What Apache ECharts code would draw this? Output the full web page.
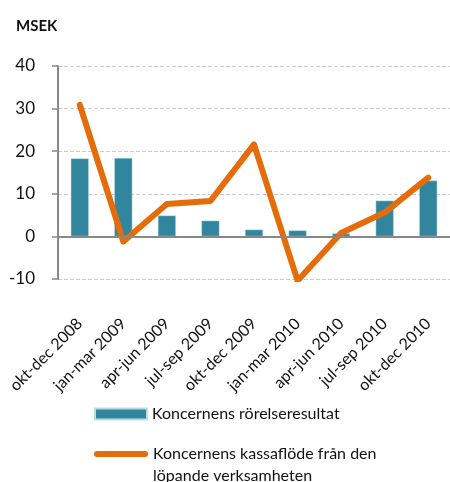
<!DOCTYPE html>
<html><head><meta charset="utf-8">
<script src="https://cdn.jsdelivr.net/npm/echarts@6/dist/echarts.min.js"></script>
<style>html,body{margin:0;padding:0;background:#fff}#c{width:450px;height:482px}</style>
</head><body><div id="c"></div>
<script>
const categories = ['okt-dec 2008','jan-mar 2009','apr-jun 2009','jul-sep 2009','okt-dec 2009','jan-mar 2010','apr-jun 2010','jul-sep 2010','okt-dec 2010'];
const rorelseresultat = [18.3, 18.4, 4.9, 3.7, 1.6, 1.4, 0.7, 8.4, 13.1];
const kassaflode = [30.9, -1.2, 7.6, 8.3, 21.6, -10.4, 0.8, 5.6, 13.8];
const yTicks = {min: -10, max: 40, interval: 10};
const barName = 'Koncernens rörelseresultat';
const lineName = 'Koncernens kassaflöde från den löpande verksamheten';
const font = 'Lato, "Liberation Sans", sans-serif';
const chart = echarts.init(document.getElementById('c'), null, {renderer:'canvas'});
chart.setOption({
  animation:false,
  title:{text:'MSEK', left:11, top:14, textStyle:{fontFamily:font, fontSize:15, fontWeight:'bold', color:'#111'}},
  grid:{left:58, right:-13, top:66, bottom:203, containLabel:false},
  legend:[
    {orient:'vertical', left:89, top:401, itemWidth:52, itemHeight:11, itemGap:0,
     textStyle:{fontFamily:font, fontSize:16, color:'#111'},
     data:[{name:barName, icon:'rect'}]},
    {orient:'vertical', left:89, top:416, itemWidth:54, itemHeight:6, itemGap:0,
     textStyle:{fontFamily:font, fontSize:16, color:'#111', lineHeight:22},
     formatter:function(){ return ' \nKoncernens kassaflöde från den\nlöpande verksamheten'; },
     data:[{name:lineName, icon:'path://M3,0 L51,0 A3,3 0 0 1 51,6 L3,6 A3,3 0 0 1 3,0 Z', itemStyle:{color:'#E46C0A'}}]}
  ],
  xAxis:{type:'category', data:categories, boundaryGap:true,
    axisLine:{show:false, onZero:false}, axisTick:{show:false},
    axisLabel:{rotate:45, interval:0, margin:42, fontFamily:font, fontSize:16, color:'#111'}},
  yAxis:{type:'value', min:yTicks.min, max:yTicks.max, interval:yTicks.interval,
    axisLine:{show:true, lineStyle:{color:'#888', width:2}},
    axisTick:{show:true, length:6, lineStyle:{color:'#888', width:1.5}},
    axisLabel:{margin:23, fontFamily:font, fontSize:17, color:'#111'},
    splitLine:{show:true, lineStyle:{color:'#ccc', type:'dashed', width:1}}},
  series:[
    {name:barName, type:'bar', data:rorelseresultat, barWidth:18,
     itemStyle:{color:'#31859C', borderColor:'#B7DDE8', borderWidth:0.5},
     markLine:{silent:true, symbol:'none', label:{show:false}, data:[{yAxis:0}],
       lineStyle:{color:'#888', width:2, type:'solid'}}},
    {name:lineName, type:'line', data:kassaflode, symbol:'none', clip:true,
     lineStyle:{color:'#E46C0A', width:6, cap:'round', join:'round'}, itemStyle:{color:'#E46C0A'}, z:3}
  ]
});
</script></body></html>
